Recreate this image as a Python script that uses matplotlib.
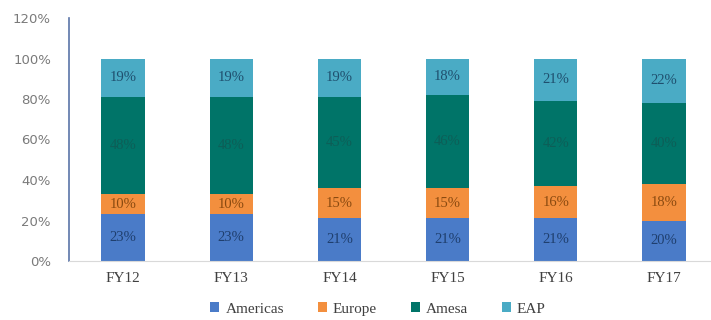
import matplotlib
matplotlib.use("Agg")
import matplotlib.pyplot as plt
import numpy as np

categories = ["FY12", "FY13", "FY14", "FY15", "FY16", "FY17"]
americas = [23, 23, 21, 21, 21, 20]
europe = [10, 10, 15, 15, 16, 18]
amesa = [48, 48, 45, 46, 42, 40]
eap = [19, 19, 19, 18, 21, 22]
series_names = ["Americas", "Europe", "Amesa", "EAP"]
colors = ["#4a7bc8", "#f38f3e", "#007468", "#4aabc5"]
label_colors = ["#1f3f6e", "#8a4a10", "#0d5e57", "#1f4f6e"]

fig = plt.figure(figsize=(7.11, 3.2), dpi=100)
ax = fig.add_axes([69/711, 1 - 261/320, 1 - 69/711, (261 - 18)/320])

x = np.arange(len(categories))
bottom = np.zeros(len(categories))
serif = "Liberation Serif"
for name, vals, c, lc in zip(series_names, [americas, europe, amesa, eap], colors, label_colors):
    vals = np.array(vals, dtype=float)
    ax.bar(x, vals, 0.4, bottom=bottom, color=c, label=name, zorder=2)
    for xi, b, v in zip(x, bottom, vals):
        ax.text(xi, b + v / 2, f"{int(v)}%", ha="center", va="center",
                fontsize=10.5, color=lc, family=serif, zorder=3)
    bottom += vals

ax.set_xlim(-0.5, 5.5 - 7/108)
ax.set_ylim(0, 120)
ax.set_yticks(range(0, 121, 20))
ax.set_yticklabels([f"{v}%" for v in range(0, 121, 20)], color="#7a7a7a", fontsize=9.5)
ax.set_xticks(x)
ax.set_xticklabels(categories, family=serif, fontsize=11, color="#404040")
ax.tick_params(axis="both", length=0)
ax.tick_params(axis="y", pad=13)
ax.tick_params(axis="x", pad=8)
for s in ["top", "right"]:
    ax.spines[s].set_visible(False)
ax.spines["left"].set_color("#5a74a8")
ax.spines["left"].set_linewidth(1.2)
ax.spines["bottom"].set_color("#d9d9d9")

leg = fig.legend(loc="center", bbox_to_anchor=(378/711, 1 - 309/320), ncol=4,
                 frameon=False, prop={"family": serif, "size": 11},
                 handlelength=0.6, handleheight=0.6, handletextpad=0.4, columnspacing=2.2)
for t in leg.get_texts():
    t.set_color("#404040")

fig.savefig("out.png", dpi=100)
